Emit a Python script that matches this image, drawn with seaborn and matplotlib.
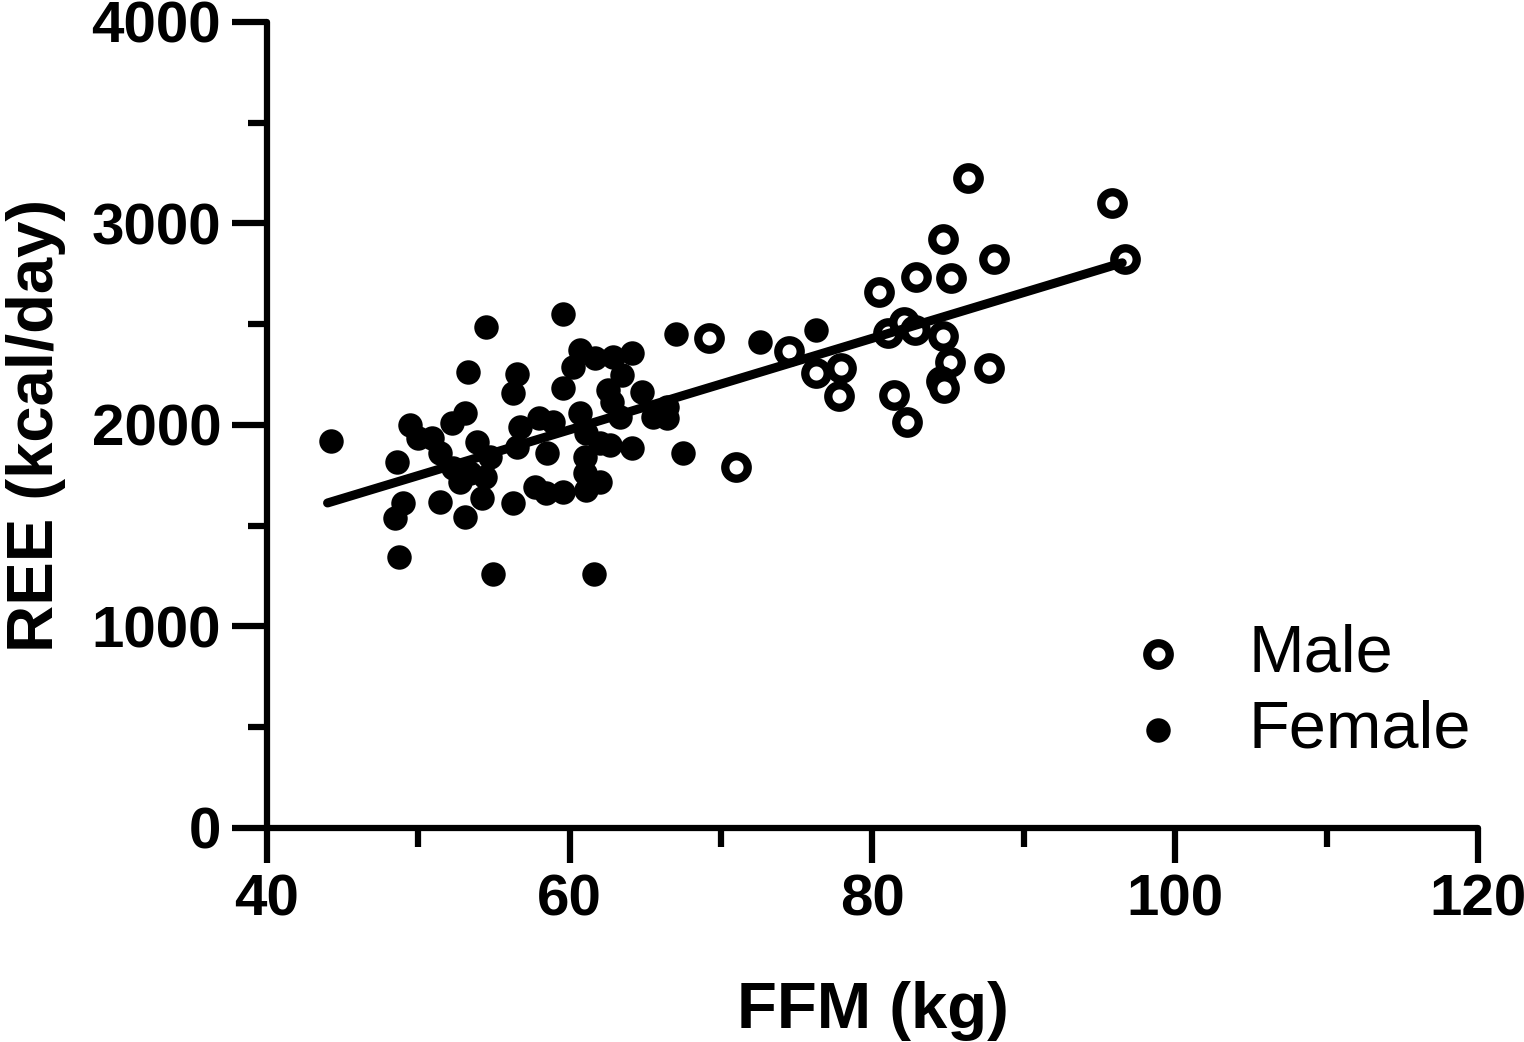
import matplotlib
matplotlib.use('Agg')
import matplotlib.pyplot as plt
from matplotlib.ticker import MultipleLocator
import seaborn as sns

# Male: fat free mass (kg) vs resting energy expenditure (kcal/day)
male_ffm = [86.3, 95.8, 96.7, 84.65, 88.0, 82.9, 85.2, 80.4, 69.2, 74.5, 81.0, 82.1,
            82.8, 84.65, 76.3, 77.9, 77.8, 85.1, 87.7, 84.5, 84.7, 81.4, 82.3, 71.0]
male_ree = [3226, 3102, 2824, 2923, 2824, 2734, 2730, 2660, 2432, 2367, 2457, 2511,
            2471, 2442, 2258, 2283, 2144, 2313, 2283, 2218, 2184, 2149, 2015, 1792]

# Female
female_ffm = [44.2, 54.5, 59.55, 53.3, 56.5, 56.25, 67.0, 60.7, 61.7, 62.85, 64.1, 60.2,
              63.45, 59.55, 62.5, 64.8, 62.8, 63.3, 65.5, 66.4, 66.4, 49.45, 49.97, 50.9,
              52.2, 53.1, 51.4, 48.6, 53.9, 54.7, 52.3, 53.4, 54.4, 52.75, 54.2, 49.0,
              48.45, 51.4, 53.1, 56.25, 48.7, 54.9, 61.6, 56.7, 58.0, 58.9, 56.5, 58.5,
              57.7, 58.4, 59.55, 60.7, 61.1, 62.0, 61.0, 62.65, 61.0, 62.0, 61.1, 64.1,
              67.5, 72.6, 76.3]
female_ree = [1921, 2486, 2551, 2263, 2253, 2159, 2452, 2372, 2333, 2337, 2357, 2288,
              2248, 2184, 2174, 2164, 2114, 2040, 2040, 2089, 2035, 2000, 1935, 1935,
              2010, 2060, 1861, 1816, 1916, 1841, 1787, 1762, 1742, 1717, 1638, 1613,
              1538, 1618, 1543, 1613, 1345, 1261, 1261, 1990, 2035, 2015, 1891, 1861,
              1692, 1663, 1667, 2060, 1960, 1911, 1841, 1901, 1762, 1717, 1677, 1886,
              1861, 2412, 2471]

# regression line end points
fit_ffm = [44.0, 96.5]
fit_ree = [1613, 2805]

sns.set_theme(style='ticks')
plt.rcParams['font.family'] = ['Liberation Sans', 'DejaVu Sans']
plt.rcParams['text.color'] = 'black'
plt.rcParams['axes.labelcolor'] = 'black'
plt.rcParams['xtick.labelcolor'] = 'black'
plt.rcParams['ytick.labelcolor'] = 'black'

fig = plt.figure(figsize=(15.24, 10.42), dpi=100)
ax = fig.add_axes([0.1752, 0.2054, 0.7946, 0.7735])

sns.scatterplot(x=female_ffm, y=female_ree, ax=ax, color='black', s=310,
                linewidth=0, label='Female', zorder=3)
sns.scatterplot(x=male_ffm, y=male_ree, ax=ax, color='white', edgecolor='black',
                s=260, linewidth=6.0, label='Male', zorder=4)
sns.lineplot(x=fit_ffm, y=fit_ree, ax=ax, color='black', linewidth=6.5,
             solid_capstyle='round', zorder=5)

ax.set_xlim(40, 120)
ax.set_ylim(0, 4000)
ax.xaxis.set_major_locator(MultipleLocator(20))
ax.xaxis.set_minor_locator(MultipleLocator(10))
ax.yaxis.set_major_locator(MultipleLocator(1000))
ax.yaxis.set_minor_locator(MultipleLocator(500))

sns.despine(ax=ax)
for side in ['left', 'bottom']:
    ax.spines[side].set_linewidth(4.5)
    ax.spines[side].set_color('black')
    ax.spines[side].set_capstyle('round')
ax.tick_params(which='major', length=25, width=4.5, color='black', labelsize=42)
ax.tick_params(which='minor', length=14, width=4.5, color='black')
ax.tick_params(axis='x', which='major', pad=8)
ax.tick_params(axis='y', which='major', pad=8)
for lab in ax.get_xticklabels() + ax.get_yticklabels():
    lab.set_fontweight('bold')

ax.set_xlabel('FFM (kg)', fontsize=47, fontweight='bold')
ax.set_ylabel('REE (kcal/day)', fontsize=47, fontweight='bold')
ax.xaxis.set_label_coords(0.5, -0.19)
ax.yaxis.set_label_coords(-0.166, 0.5)

handles, labels = ax.get_legend_handles_labels()
order = [labels.index('Male'), labels.index('Female')]
ax.legend([handles[i] for i in order], [labels[i] for i in order],
          loc='center left', bbox_to_anchor=(0.714, 0.168), frameon=False,
          fontsize=48, borderpad=0, borderaxespad=0, handlelength=0.8,
          handletextpad=0.95, labelspacing=0.2)

fig.savefig('out.png', dpi=100)
